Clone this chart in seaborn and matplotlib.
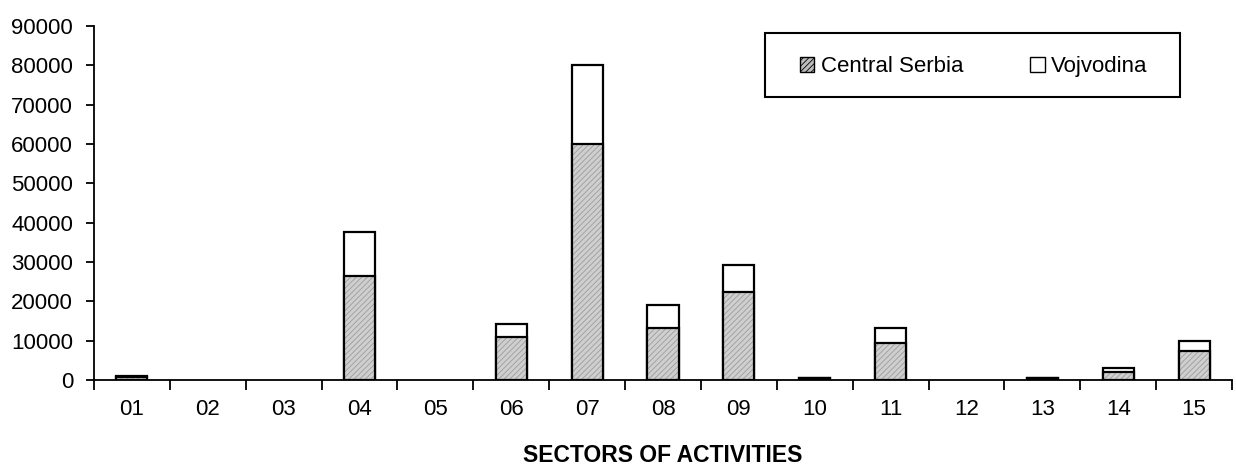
import numpy as np
import pandas as pd
import seaborn as sns
import matplotlib.pyplot as plt
from matplotlib.patches import Patch, Rectangle

# Data
sectors = ['01', '02', '03', '04', '05', '06', '07', '08', '09', '10', '11', '12', '13', '14', '15']
central_serbia = [700, 0, 0, 26500, 0, 11000, 60000, 13300, 22300, 400, 9500, 0, 400, 2100, 7400]
vojvodina = [400, 0, 0, 11200, 0, 3300, 20100, 5700, 6900, 200, 3800, 0, 200, 1000, 2600]
y_ticks = [0, 10000, 20000, 30000, 40000, 50000, 60000, 70000, 80000, 90000]

df = pd.DataFrame({'Sector': sectors,
                   'Central Serbia': central_serbia,
                   'Vojvodina': vojvodina})
df['Total'] = df['Central Serbia'] + df['Vojvodina']

sns.set_style('white')
plt.rcParams['font.family'] = ['Liberation Sans', 'DejaVu Sans']
plt.rcParams['text.color'] = 'black'
plt.rcParams['axes.labelcolor'] = 'black'
plt.rcParams['xtick.color'] = 'black'
plt.rcParams['ytick.color'] = 'black'
plt.rcParams['hatch.linewidth'] = 0.6

fig = plt.figure(figsize=(12.36, 4.72), dpi=100)
ax = fig.add_axes([94 / 1236, 92 / 472, 1138 / 1236, 354 / 472])

# Vojvodina stacked on top: draw the total in white first
sns.barplot(data=df, x='Sector', y='Total', color='white', width=0.41,
            edgecolor='black', linewidth=1.6, saturation=1, ax=ax)
n_first = len(ax.patches)
for p in ax.patches[:n_first]:
    if p.get_height() == 0:
        p.set_visible(False)

# Central Serbia, grey hatched
sns.barplot(data=df, x='Sector', y='Central Serbia', color='#cfcfcf', width=0.41,
            saturation=1, linewidth=0, ax=ax)
for p in list(ax.patches[n_first:]):
    if p.get_height() == 0:
        p.set_visible(False)
        continue
    p.set_hatch('//////')
    p.set_edgecolor('#9c9c9c')
    p.set_linewidth(0)
    outline = Rectangle(p.get_xy(), p.get_width(), p.get_height(),
                        fill=False, edgecolor='black', linewidth=1.6, zorder=p.get_zorder() + 0.1)
    ax.add_patch(outline)

ax.set_xlim(-0.5, len(sectors) - 0.5)
ax.set_ylim(0, 90000)
ax.set_yticks(y_ticks)
ax.set_yticklabels([str(v) for v in y_ticks])

# x ticks between categories, labels in the middle
ax.set_xticks(np.arange(len(sectors) + 1) - 0.5, minor=True)
ax.tick_params(axis='x', which='major', length=0, pad=14, labelsize=16)
ax.tick_params(axis='x', which='minor', length=7, width=1.3, direction='out', bottom=True)
ax.tick_params(axis='y', which='major', length=6, width=1.3, direction='out',
               left=True, pad=9, labelsize=16)

ax.set_xlabel('SECTORS OF ACTIVITIES', fontsize=16.5, fontweight='bold', labelpad=17)
ax.set_ylabel('')

for side in ['top', 'right']:
    ax.spines[side].set_visible(False)
for side in ['left', 'bottom']:
    ax.spines[side].set_color('black')
    ax.spines[side].set_linewidth(1.3)

# legend box
ax.add_patch(Rectangle((0.5896, 0.7994), 0.3647, 0.1806, transform=ax.transAxes,
                       fill=False, edgecolor='black', linewidth=1.5, clip_on=False))
handles = [Patch(facecolor='#bdbdbd', edgecolor='black', linewidth=1.0, hatch='//////',
                 label='Central Serbia'),
           Patch(facecolor='white', edgecolor='black', linewidth=1.0, label='Vojvodina')]
leg = ax.legend(handles=handles, loc='center left', bbox_to_anchor=(0.6204, 0.885),
                ncol=2, fontsize=16, frameon=False,
                handlelength=0.65, handleheight=0.65, handletextpad=0.3, borderpad=0,
                columnspacing=3.0, borderaxespad=0)

fig.savefig('out.png', dpi=100)
